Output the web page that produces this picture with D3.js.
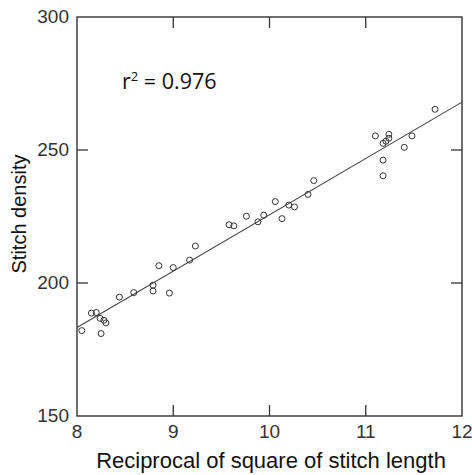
<!DOCTYPE html>
<html>
<head>
<meta charset="utf-8">
<script src="https://cdn.jsdelivr.net/npm/d3@7"></script>
<style>
  html, body { margin: 0; padding: 0; background: #fff; }
  svg { display: block; }
  .tick-label { font-family: "Liberation Sans", Arial, sans-serif; font-size: 19px; fill: #333; }
  .axis-title { font-family: "Liberation Sans", Arial, sans-serif; fill: #111; }
</style>
</head>
<body>
<div id="chart"></div>
<script>
(function () {
  'use strict';

  const W = 472, H = 475;
  const M = { left: 77, right: 10, top: 17, bottom: 59 };
  const INK = '#333';

  // scatter points
  const recipSq = [8.05, 8.15, 8.20, 8.24, 8.25, 8.28, 8.30, 8.44, 8.59, 8.79, 8.79, 8.85,
    8.96, 9.00, 9.17, 9.23, 9.58, 9.63, 9.76, 9.88, 9.94, 10.06, 10.13, 10.20, 10.26,
    10.40, 10.46, 11.10, 11.18, 11.18, 11.18, 11.21, 11.24, 11.24, 11.40, 11.48, 11.72];
  const density = [182.1, 188.7, 188.9, 186.7, 181.0, 186.0, 185.0, 194.7, 196.4, 199.2, 197.0, 206.5,
    196.2, 205.8, 208.6, 213.9, 221.9, 221.5, 225.1, 223.0, 225.5, 230.6, 224.2, 229.3, 228.6,
    233.3, 238.5, 255.3, 252.5, 246.2, 240.3, 253.3, 255.9, 254.4, 251.0, 255.3, 265.3];

  // fitted line ends
  const fitX = [8, 12];
  const fitY = [183.3, 268.0];

  const xTicks = [8, 9, 10, 11, 12];
  const yTicks = [150, 200, 250, 300];

  const x = d3.scaleLinear().domain([8, 12]).range([M.left, W - M.right]);
  const y = d3.scaleLinear().domain([150, 300]).range([H - M.bottom, M.top]);

  const svg = d3.select('#chart').append('svg')
    .attr('width', W).attr('height', H);

  const TICK = 11;

  // inward ticks on all four sides
  svg.append('g').selectAll('line.xb')
    .data(xTicks.slice(1, -1))
    .join('line')
    .attr('x1', d => x(d)).attr('x2', d => x(d))
    .attr('y1', y(150)).attr('y2', y(150) - TICK)
    .attr('stroke', INK).attr('stroke-width', 1.3);
  svg.append('g').selectAll('line.xt')
    .data(xTicks.slice(1, -1))
    .join('line')
    .attr('x1', d => x(d)).attr('x2', d => x(d))
    .attr('y1', y(300)).attr('y2', y(300) + TICK)
    .attr('stroke', INK).attr('stroke-width', 1.3);
  svg.append('g').selectAll('line.yl')
    .data(yTicks.slice(1, -1))
    .join('line')
    .attr('x1', x(8)).attr('x2', x(8) + TICK)
    .attr('y1', d => y(d)).attr('y2', d => y(d))
    .attr('stroke', INK).attr('stroke-width', 1.3);
  svg.append('g').selectAll('line.yr')
    .data(yTicks.slice(1, -1))
    .join('line')
    .attr('x1', x(12)).attr('x2', x(12) - TICK)
    .attr('y1', d => y(d)).attr('y2', d => y(d))
    .attr('stroke', INK).attr('stroke-width', 1.3);

  // frame
  svg.append('rect')
    .attr('x', x(8)).attr('y', y(300))
    .attr('width', x(12) - x(8)).attr('height', y(150) - y(300))
    .attr('fill', 'none').attr('stroke', INK).attr('stroke-width', 1.4);

  // tick labels
  svg.append('g').selectAll('text')
    .data(xTicks)
    .join('text')
    .attr('class', 'tick-label')
    .attr('x', d => x(d)).attr('y', y(150) + 22)
    .attr('text-anchor', 'middle')
    .text(d => d);
  svg.append('g').selectAll('text')
    .data(yTicks)
    .join('text')
    .attr('class', 'tick-label')
    .attr('x', x(8) - 8).attr('y', d => y(d) + 6)
    .attr('text-anchor', 'end')
    .text(d => d);

  // axis titles
  svg.append('text')
    .attr('class', 'axis-title')
    .attr('font-size', 22)
    .attr('x', 271).attr('y', 468)
    .attr('text-anchor', 'middle')
    .text('Reciprocal of square of stitch length');
  svg.append('text')
    .attr('class', 'axis-title')
    .attr('font-size', 20)
    .attr('transform', `translate(26,${214}) rotate(-90)`)
    .attr('text-anchor', 'middle')
    .text('Stitch density');

  // regression line
  svg.append('line')
    .attr('x1', x(fitX[0])).attr('y1', y(fitY[0]))
    .attr('x2', x(fitX[1])).attr('y2', y(fitY[1]))
    .attr('stroke', '#444').attr('stroke-width', 1.1);

  // points
  svg.append('g').selectAll('circle')
    .data(recipSq.map((v, i) => [v, density[i]]))
    .join('circle')
    .attr('cx', d => x(d[0])).attr('cy', d => y(d[1]))
    .attr('r', 3)
    .attr('fill', 'none').attr('stroke', INK).attr('stroke-width', 1);

  // r squared annotation
  const r2 = svg.append('text')
    .attr('x', 122).attr('y', 89)
    .attr('font-family', '"Open Sans", sans-serif')
    .attr('font-size', 21.5)
    .attr('fill', '#111');
  r2.append('tspan').text('r');
  r2.append('tspan').attr('dy', -8).attr('font-size', 13).text('2');
  r2.append('tspan').attr('dy', 8).text(' = 0.976');
})();
</script>
</body>
</html>
